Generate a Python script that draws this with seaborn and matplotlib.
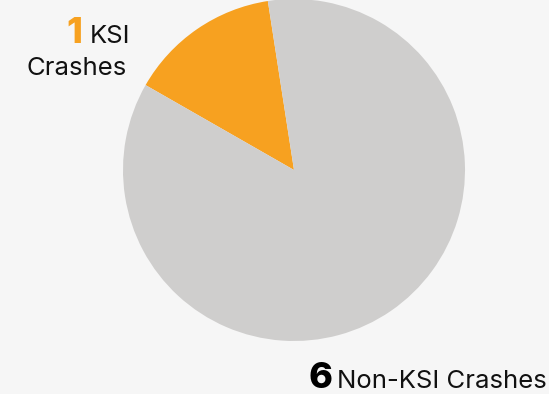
import matplotlib
matplotlib.use("Agg")
from matplotlib import pyplot as plt
import seaborn as sns

labels = ["KSI Crashes", "Non-KSI Crashes"]
counts = [1, 6]
colors = ["#f7a120", "#cfcecd"]

sns.set_style("white")
plt.rcParams["font.family"] = ["Inter", "DejaVu Sans"]

W, H = 549, 394
fig = plt.figure(figsize=(W / 100, H / 100), dpi=100, facecolor="#f6f6f6")
ax = fig.add_axes([0, 0, 1, 1])
ax.set_facecolor("#f6f6f6")

ax.pie(counts, colors=sns.color_palette(colors), startangle=98.8,
       counterclock=True, center=(294, H - 170), radius=171,
       wedgeprops=dict(linewidth=0))
ax.set_xlim(0, W)
ax.set_ylim(0, H)
ax.set_aspect("auto")
ax.axis("off")

# top-left label
ax.text(82, H - 43, str(counts[0]), color=colors[0], fontsize=26,
        fontweight="heavy", ha="right", va="baseline")
ax.text(130, H - 43, "KSI", color="#111111", fontsize=18.5,
        ha="right", va="baseline")
ax.text(127, H - 75, "Crashes", color="#111111", fontsize=18.5,
        ha="right", va="baseline")

# bottom-right label
ax.text(332, H - 388, str(counts[1]), color="#000000", fontsize=26,
        fontweight="heavy", ha="right", va="baseline")
ax.text(547, H - 388, "Non-KSI Crashes", color="#111111", fontsize=18.5,
        ha="right", va="baseline")

fig.savefig("out.png", dpi=100, facecolor=fig.get_facecolor())
